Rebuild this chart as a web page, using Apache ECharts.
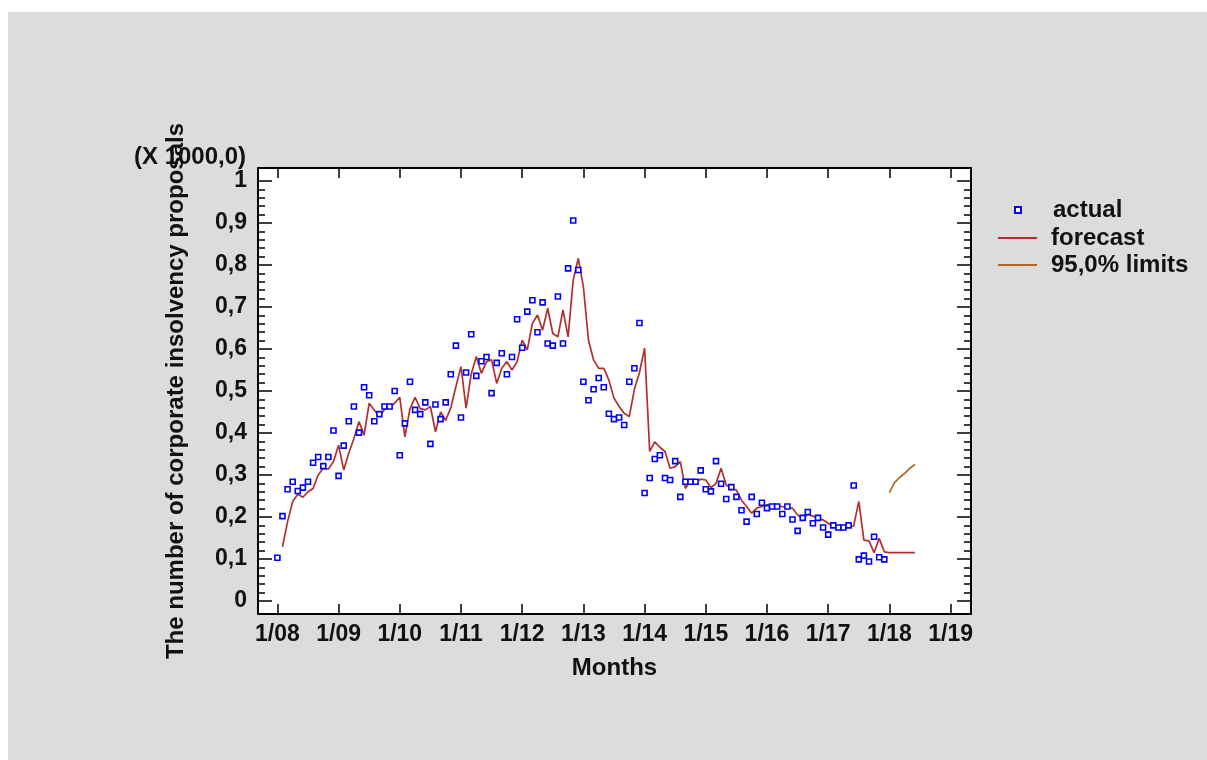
<!DOCTYPE html>
<html>
<head>
<meta charset="utf-8">
<title>Corporate insolvency proposals</title>
<script src="https://cdn.jsdelivr.net/npm/echarts@6/dist/echarts.min.js"></script>
<style>
  html, body { margin: 0; padding: 0; background: #ffffff; }
  #chart { width: 1207px; height: 760px; }
</style>
</head>
<body>
<div id="chart"></div>
<script>
// x is a month index: 0 = Jan 2008
var xTicks = [0, 12, 24, 36, 48, 60, 72, 84, 96, 108, 120, 132]
var xTickLabels = ['1/08', '1/09', '1/10', '1/11', '1/12', '1/13', '1/14', '1/15', '1/16', '1/17', '1/18', '1/19']
var yTicks = [0, 0.1, 0.2, 0.3, 0.4, 0.5, 0.6, 0.7, 0.8, 0.9, 1]
var yTickLabels = ['0', '0,1', '0,2', '0,3', '0,4', '0,5', '0,6', '0,7', '0,8', '0,9', '1']

// actual, Jan 2008 .. Dec 2017
var actualStart = 0
var actualValues = [
  0.103, 0.202, 0.266, 0.284, 0.262, 0.270, 0.284, 0.329, 0.343, 0.321, 0.343, 0.406,
  0.298, 0.370, 0.428, 0.463, 0.401, 0.509, 0.490, 0.428, 0.445, 0.463, 0.463, 0.500,
  0.347, 0.423, 0.522, 0.455, 0.445, 0.473, 0.374, 0.468, 0.433, 0.473, 0.540, 0.608,
  0.437, 0.544, 0.635, 0.536, 0.571, 0.581, 0.495, 0.567, 0.590, 0.540, 0.581, 0.671,
  0.603, 0.689, 0.716, 0.640, 0.711, 0.613, 0.608, 0.725, 0.613, 0.792, 0.906, 0.788,
  0.522, 0.478, 0.504, 0.531, 0.509, 0.446, 0.433, 0.437, 0.419, 0.522, 0.554, 0.662,
  0.257, 0.293, 0.338, 0.347, 0.293, 0.288, 0.333, 0.248, 0.284, 0.284, 0.284, 0.311,
  0.266, 0.261, 0.333, 0.279, 0.243, 0.271, 0.248, 0.216, 0.189, 0.248, 0.207, 0.234,
  0.221, 0.225, 0.225, 0.207, 0.225, 0.194, 0.167, 0.198, 0.212, 0.185, 0.198, 0.175,
  0.158, 0.180, 0.175, 0.175, 0.180, 0.275, 0.099, 0.108, 0.094, 0.153, 0.104, 0.099
]

// forecast, Feb 2008 .. Jun 2018
var forecastStart = 1
var forecastValues = [
  0.129, 0.189, 0.237, 0.254, 0.247, 0.260, 0.268, 0.300, 0.316, 0.314, 0.332,
  0.371, 0.312, 0.352, 0.387, 0.427, 0.395, 0.471, 0.455, 0.439, 0.456, 0.461, 0.471,
  0.485, 0.391, 0.458, 0.485, 0.458, 0.455, 0.463, 0.403, 0.450, 0.430, 0.460, 0.510,
  0.558, 0.459, 0.540, 0.582, 0.542, 0.570, 0.574, 0.518, 0.554, 0.570, 0.550, 0.570,
  0.621, 0.598, 0.661, 0.681, 0.645, 0.697, 0.637, 0.629, 0.693, 0.629, 0.764, 0.816,
  0.748, 0.621, 0.574, 0.554, 0.554, 0.526, 0.483, 0.463, 0.447, 0.439, 0.504, 0.544,
  0.602, 0.356, 0.379, 0.366, 0.356, 0.316, 0.320, 0.332, 0.268, 0.287, 0.284, 0.290,
  0.288, 0.270, 0.280, 0.316, 0.276, 0.268, 0.264, 0.240, 0.225, 0.209, 0.221, 0.225,
  0.229, 0.225, 0.225, 0.225, 0.221, 0.221, 0.205, 0.195, 0.206, 0.202, 0.197, 0.193,
  0.185, 0.177, 0.177, 0.177, 0.177, 0.179, 0.237, 0.145, 0.143, 0.115, 0.149, 0.117,
  0.115, 0.115, 0.115, 0.115, 0.115, 0.115
]

// upper 95% limit, Jan 2018 .. Jun 2018
var limitStart = 120
var upperLimitValues = [0.258, 0.282, 0.294, 0.304, 0.316, 0.325]

var FONT = "'Liberation Sans', Arial, sans-serif"
var xMin = -3.8, xMax = 136
var yMin = -0.031, yMax = 1.031

var minorTicks = []
for (var i = 1; i < 50; i++) {
  if (i % 5 != 0) minorTicks.push(i / 50)
}

function toPoints(start, values) {
  return values.map(function (v, i) { return [start + i, v] })
}

function pickLabel(ticks, labels, value) {
  for (var i = 0; i < ticks.length; i++) {
    if (Math.abs(ticks[i] - value) < 1e-6) return labels[i]
  }
  return ''
}

function xAxisOf(position, withLabels) {
  return {
    type: 'value', position: position, min: xMin, max: xMax,
    splitLine: { show: false },
    axisLine: { show: true, onZero: false, lineStyle: { color: '#000', width: 2 } },
    axisTick: { show: true, inside: true, length: 10, customValues: xTicks, lineStyle: { color: '#000', width: 1.5 } },
    axisLabel: {
      show: withLabels, customValues: xTicks, margin: 9,
      fontFamily: FONT, fontSize: 23, fontWeight: 'bold', color: '#111',
      formatter: function (v) { return pickLabel(xTicks, xTickLabels, v) }
    },
    name: withLabels ? 'Months' : '',
    nameLocation: 'middle', nameGap: 42,
    nameTextStyle: { fontFamily: FONT, fontSize: 24, fontWeight: 'bold', color: '#111' }
  }
}

function yAxisOf(position, ticks, len, withLabels, withLine) {
  return {
    type: 'value', position: position, min: yMin, max: yMax,
    splitLine: { show: false },
    axisLine: { show: withLine, onZero: false, lineStyle: { color: '#000', width: 2 } },
    axisTick: { show: true, inside: true, length: len, customValues: ticks, lineStyle: { color: '#000', width: 1.5 } },
    axisLabel: {
      show: withLabels, customValues: ticks, margin: 11,
      fontFamily: FONT, fontSize: 23, fontWeight: 'bold', color: '#111',
      formatter: function (v) { return pickLabel(yTicks, yTickLabels, v) }
    },
    name: withLabels ? 'The number of corporate insolvency proposals' : '',
    nameLocation: 'middle', nameGap: 70,
    nameTextStyle: { fontFamily: FONT, fontSize: 24, fontWeight: 'bold', color: '#111' }
  }
}

var chart = echarts.init(document.getElementById('chart'), null, { renderer: 'canvas' })

var option = {
  animation: false,
  graphic: [{
    type: 'rect', z: -100, silent: true,
    shape: { x: 8, y: 12, width: 1199, height: 748 },
    style: { fill: '#dcdcdc' }
  }],
  title: {
    text: '(X 1000,0)', left: 134, top: 145, padding: 0,
    textStyle: { fontFamily: FONT, fontSize: 24, fontWeight: 'bold', color: '#111' }
  },
  grid: {
    left: 258, top: 168, width: 713, height: 446,
    show: true, backgroundColor: '#ffffff', borderWidth: 0
  },
  legend: [{
    data: ['actual'], orient: 'vertical', left: 1014, top: 198, padding: 0,
    selectedMode: false, itemWidth: 6, itemHeight: 6,
    textStyle: { fontFamily: FONT, fontSize: 24, fontWeight: 'bold', color: '#111', lineHeight: 24, padding: [0, 0, 0, 27] }
  }, {
    data: [{ name: 'forecast', icon: 'rect' }, { name: '95,0% limits', icon: 'rect' }],
    orient: 'vertical', left: 998, top: 226, padding: 0,
    selectedMode: false, itemWidth: 39, itemHeight: 2, itemGap: 3,
    textStyle: { fontFamily: FONT, fontSize: 24, fontWeight: 'bold', color: '#111', lineHeight: 24, padding: [0, 0, 0, 9] }
  }],
  xAxis: [xAxisOf('bottom', true), xAxisOf('top', false)],
  yAxis: [
    yAxisOf('left', yTicks, 14, true, true),
    yAxisOf('left', minorTicks, 7, false, false),
    yAxisOf('right', yTicks, 14, false, true),
    yAxisOf('right', minorTicks, 7, false, false)
  ],
  series: [{
    name: 'actual', type: 'scatter', z: 4,
    symbol: 'rect', symbolSize: 5,
    itemStyle: { color: '#ffffff', borderColor: '#0000ff', borderWidth: 1.6, opacity: 1 },
    data: toPoints(actualStart, actualValues)
  }, {
    name: 'forecast', type: 'line', z: 3, symbol: 'none',
    lineStyle: { color: '#b22f2f', width: 1.7 },
    itemStyle: { color: '#b22f2f' },
    data: toPoints(forecastStart, forecastValues)
  }, {
    name: '95,0% limits', type: 'line', z: 3, symbol: 'none',
    lineStyle: { color: '#b5651d', width: 1.7 },
    itemStyle: { color: '#b5651d' },
    data: toPoints(limitStart, upperLimitValues)
  }]
}
chart.setOption(option)
</script>
</body>
</html>
